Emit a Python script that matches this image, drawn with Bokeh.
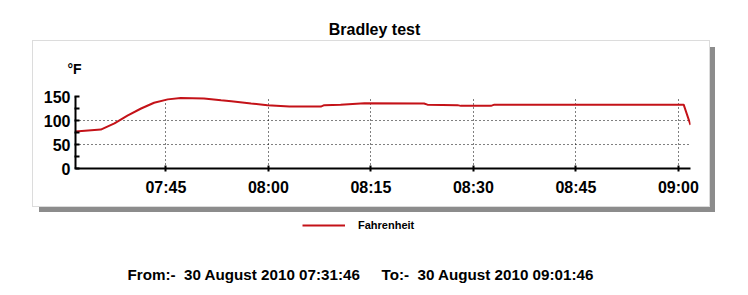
import pandas as pd
from bokeh.plotting import figure
from bokeh.layouts import column, row
from bokeh.models import (Range1d, FixedTicker, Label, Legend, LegendItem, Spacer)
from bokeh.embed import file_html
from bokeh.resources import INLINE

# ---- data ----
date = "2010-08-30"
times = ["07:31:46", "07:35:28", "07:37:28", "07:39:22", "07:41:22", "07:43:16",
         "07:45:16", "07:47:10", "07:50:34", "07:53:04", "07:54:34", "07:57:28",
         "07:59:52", "08:03:04", "08:07:40", "08:08:10", "08:10:34", "08:14:04",
         "08:22:46", "08:23:16", "08:27:40", "08:28:10", "08:32:34", "08:33:04",
         "09:00:46", "09:01:46"]
fahrenheit = [77, 81, 94, 110, 125, 137, 144, 147, 146, 142, 140, 135.5,
              132, 129, 129, 132, 133, 136, 135.5, 133, 132, 130.5, 130.5, 133,
              133, 91]
x_start, x_end = "07:31:46", "09:01:46"
x_tick_labels = ["07:45", "08:00", "08:15", "08:30", "08:45", "09:00"]
y_ticks = [0, 50, 100, 150]
y_minor = [25, 75, 125]
title_text = "Bradley test"
series_name = "Fahrenheit"
unit_text = "°F"
from_text = "From:-\u00a0 30 August 2010 07:31:46"
to_text = "To:-\u00a0 30 August 2010 09:01:46"


def ts(t):
    return pd.Timestamp(f"{date} {t}")


def ms(t):
    return ts(t).value / 1e6


x = [ts(t) for t in times]
xticks = [ms(t + ":00") for t in x_tick_labels]

FONT = "Liberation Sans"
RED = "#c41218"
W = 748
BOX_L, BOX_R, BOX_T, BOX_B = 33, 709, 41, 206   # chart box (page px)
FL, FR, FT, FB = 75, 690, 96, 168               # plot frame (page px)
H = 295


def blank(w, h):
    f = figure(width=w, height=h, x_range=Range1d(0, 1), y_range=Range1d(0, 1),
               x_axis_location=None, y_axis_location=None, title=None,
               toolbar_location=None, output_backend="svg", min_border=0)
    f.grid.visible = False
    f.outline_line_color = None
    return f


def lab(f, text, px, py_from_bottom, size, align="left", style="bold"):
    f.add_layout(Label(x=px, y=py_from_bottom, x_units="screen", y_units="screen",
                       text=text, text_font=FONT, text_font_style=style,
                       text_font_size=size, text_align=align,
                       text_baseline="alphabetic", text_color="black"))


# ---- title strip ----
pt = blank(W, BOX_T)
lab(pt, title_text, 374, BOX_T - 29, "16px", align="center")

# ---- main chart ----
p = figure(width=BOX_R - BOX_L, height=BOX_B - BOX_T, x_axis_type="datetime",
           output_backend="svg", toolbar_location=None,
           x_range=Range1d(ms(x_start), ms(x_end)), y_range=Range1d(0, 150),
           min_border_left=FL - BOX_L, min_border_right=BOX_R - FR,
           min_border_top=FT - BOX_T, min_border_bottom=BOX_B - FB,
           styles={"box-shadow": "0 0 0 1px #dcdcdc, 6px 6px 0 #8c8c8c"})
p.outline_line_color = None
p.background_fill_color = "white"
p.border_fill_color = "white"

p.title.text = unit_text
p.title.align = "left"
p.title.vertical_align = "middle"
p.title.offset = -8
p.title.standoff = 37
p.title.text_font = FONT
p.title.text_font_style = "bold"
p.title.text_font_size = "14px"
p.title.text_color = "black"

r = p.line(x, fahrenheit, line_color=RED, line_width=2)

for ax in (p.xaxis[0], p.yaxis[0]):
    ax.axis_line_color = "black"
    ax.axis_line_width = 2
    ax.major_tick_line_color = "black"
    ax.major_tick_line_width = 2
    ax.minor_tick_line_color = "black"
    ax.minor_tick_line_width = 2
    ax.major_label_text_font = FONT
    ax.major_label_text_font_style = "bold"
    ax.major_label_text_font_size = "16px"
    ax.major_label_text_color = "black"

p.xaxis.ticker = FixedTicker(ticks=xticks)
p.xaxis.major_label_overrides = {t: l for t, l in zip(xticks, x_tick_labels)}
p.xaxis.major_tick_in = 3
p.xaxis.major_tick_out = 3
p.xaxis.minor_tick_in = 0
p.xaxis.minor_tick_out = 0
p.xaxis.major_label_standoff = 7

p.yaxis.ticker = FixedTicker(ticks=y_ticks, minor_ticks=y_minor)
p.yaxis.major_tick_in = 4
p.yaxis.major_tick_out = 1
p.yaxis.minor_tick_in = 4
p.yaxis.minor_tick_out = 1
p.yaxis.major_label_standoff = 4

p.xgrid.ticker = FixedTicker(ticks=xticks)
p.ygrid.ticker = FixedTicker(ticks=y_ticks[1:])
for g in (p.xgrid[0], p.ygrid[0]):
    g.grid_line_color = "black"
    g.grid_line_dash = "1 3"
    g.grid_line_width = 1
    g.grid_line_alpha = 1.0

# ---- legend + footer strip ----
pb = blank(W, H - BOX_B)
pb.border_fill_alpha = 0
pb.background_fill_alpha = 0
# legend key renderer (same series; falls outside this strip's view)
rl = pb.line(x=x, y=fahrenheit, line_color=RED, line_width=2)
legend = Legend(items=[LegendItem(label=series_name, renderers=[rl])],
                location=(302, H - 232), orientation="horizontal",
                border_line_color=None, background_fill_alpha=0,
                label_text_font=FONT, label_text_font_style="bold",
                label_text_font_size="11px", label_text_color="black",
                glyph_width=43, glyph_height=14, label_standoff=13,
                padding=0, margin=0)
pb.add_layout(legend, "center")
lab(pb, from_text, 127, H - 274, "15.2px")
lab(pb, to_text, 381, H - 274, "15.2px")

layout = column(pt, row(Spacer(width=BOX_L, height=BOX_B - BOX_T), p), pb)

open("out.html", "w").write(file_html(layout, INLINE))
